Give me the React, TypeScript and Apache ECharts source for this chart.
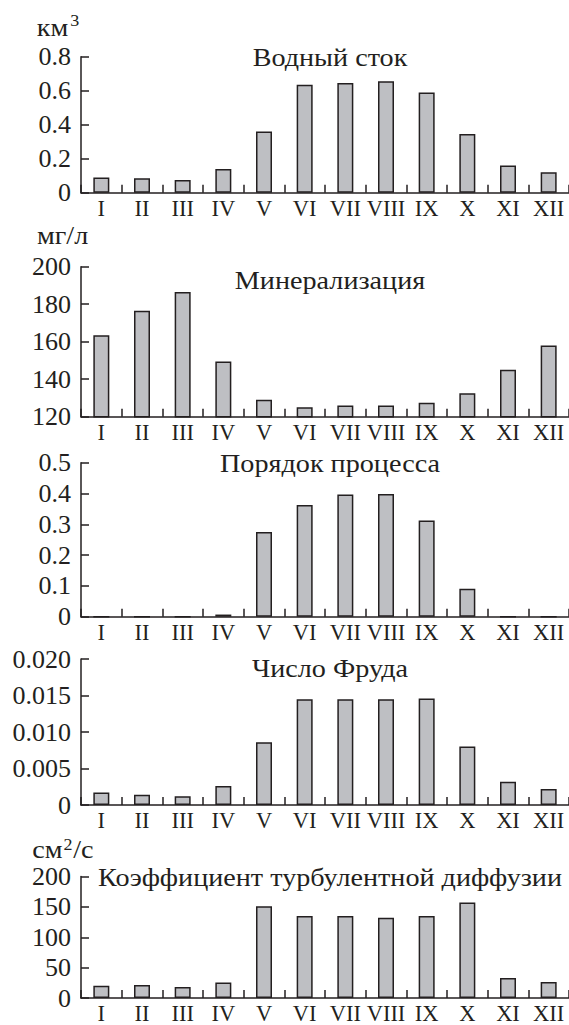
import React, { useEffect, useRef } from "react";
import * as echarts from "echarts";

const months = ["I", "II", "III", "IV", "V", "VI", "VII", "VIII", "IX", "X", "XI", "XII"];
const runoff = [0.09, 0.085, 0.075, 0.14, 0.36, 0.635, 0.645, 0.655, 0.59, 0.345, 0.16, 0.12];
const mineral = [163.5, 176.5, 186.5, 149.5, 129, 125, 126, 126, 127.5, 132.5, 145, 158];
const order = [0, 0, 0, 0.007, 0.275, 0.363, 0.397, 0.398, 0.312, 0.091, 0, 0];
const froude = [0.0017, 0.0014, 0.0012, 0.0026, 0.0086, 0.0145, 0.0145, 0.0145, 0.0146, 0.008, 0.0032, 0.0022];
const diffusion = [20, 21.5, 18, 25.5, 151, 135, 135, 132, 135, 157, 33, 26.5];

const titles = ["Водный сток", "Минерализация", "Порядок процесса", "Число Фруда", "Коэффициент турбулентной диффузии"];
const yMin = [0, 120, 0, 0, 0];
const yMax = [0.8, 200, 0.5, 0.02, 200];
const yStep = [0.2, 20, 0.1, 0.005, 50];
const yDecimals = [1, 0, 1, 3, 0];

const FONT = "Liberation Serif, DejaVu Serif, serif";
const INK = "#231f20";
const FS = 25;
const Y_FS = 26;
const X_FS = 22.5;

const gridTops = [56.7, 266.7, 462.7, 659, 876.5];
const gridHeights = [136, 150, 154, 146, 123.5];
const titleY = [57.5, 280.5, 463.8, 668.8, 878];

function measure(text: string, size: number): number {
  const c = document.createElement("canvas").getContext("2d");
  if (!c) return text.length * size * 0.5;
  c.font = `${size}px Liberation Serif, DejaVu Serif, serif`;
  return c.measureText(text).width;
}

export default function App() {
  const ref = useRef<HTMLDivElement>(null);
  useEffect(() => {
    if (!ref.current) return;
    const chart = echarts.init(ref.current, undefined, { renderer: "svg" });
    const seriesData = [runoff, mineral, order, froude, diffusion];

    const grids = gridTops.map((t, i) => ({
      left: 81,
      top: t,
      width: 490,
      height: gridHeights[i],
      containLabel: false,
    }));

    const xAxes = seriesData.map((_, i) => ({
      type: "category" as const,
      gridIndex: i,
      data: months,
      boundaryGap: true,
      axisLine: { show: true, onZero: false, lineStyle: { color: INK, width: 1.5 } },
      axisTick: { show: true, inside: true, length: 8, alignWithLabel: false, lineStyle: { color: INK, width: 1.5 } },
      axisLabel: { show: true, interval: 0, margin: 4, color: INK, fontFamily: FONT, fontSize: X_FS },
      splitLine: { show: false },
    }));

    const yAxes = seriesData.map((_, i) => ({
      type: "value" as const,
      gridIndex: i,
      min: yMin[i],
      max: yMax[i],
      interval: yStep[i],
      axisLine: { show: true, lineStyle: { color: INK, width: 1.5 } },
      axisTick: { show: true, inside: true, length: 8, lineStyle: { color: INK, width: 1.5 } },
      axisLabel: {
        show: true,
        margin: 10,
        color: INK,
        fontFamily: FONT,
        fontSize: Y_FS,
        formatter: (v: number) => (Math.abs(v) < 1e-12 ? "0" : v.toFixed(yDecimals[i])),
      },
      splitLine: { show: false },
    }));

    const series = seriesData.map((d, i) => ({
      type: "bar" as const,
      xAxisIndex: i,
      yAxisIndex: i,
      data: d,
      barWidth: 16,
      clip: true,
      itemStyle: { color: "#bebfc3", borderColor: INK, borderWidth: 1.5 },
    }));

    // horizontal stretch so the long title spans its measured width (98 → 562)
    const sx = Math.min(1.25, Math.max(1.0, 464 / measure(titles[4], FS)));

    const textStyle = (extra: any) => ({ fill: INK, fontFamily: FONT, ...extra });
    const graphic: any[] = [];
    titles.forEach((t, i) => {
      graphic.push({
        type: "text",
        x: 330,
        y: titleY[i],
        scaleX: sx,
        style: textStyle({ text: t, fontSize: FS, align: "center", verticalAlign: "middle" }),
      });
    });

    const unitPiece = (x: number, y: number, text: string, size: number) => {
      graphic.push({
        type: "text",
        x,
        y,
        scaleX: sx,
        style: textStyle({ text, fontSize: size, align: "left", verticalAlign: "middle" }),
      });
      return x + measure(text, size) * sx;
    };
    // км³
    let ux = unitPiece(36.7, 27.5, "км", FS);
    unitPiece(ux + 2, 20.5, "3", 16);
    // мг/л
    unitPiece(37, 235.5, "мг/л", FS);
    // см²/с
    ux = unitPiece(32.3, 849.5, "см", FS);
    ux = unitPiece(ux + 1, 844.5, "2", 16);
    unitPiece(ux + 0.5, 849.5, "/с", FS);

    chart.setOption({
      animation: false,
      backgroundColor: "#ffffff",
      grid: grids,
      xAxis: xAxes,
      yAxis: yAxes,
      series,
      graphic,
    });
    return () => chart.dispose();
  }, []);
  return <div ref={ref} style={{ position: "fixed", left: 0, top: 0, width: 569, height: 1025 }} />;
}
